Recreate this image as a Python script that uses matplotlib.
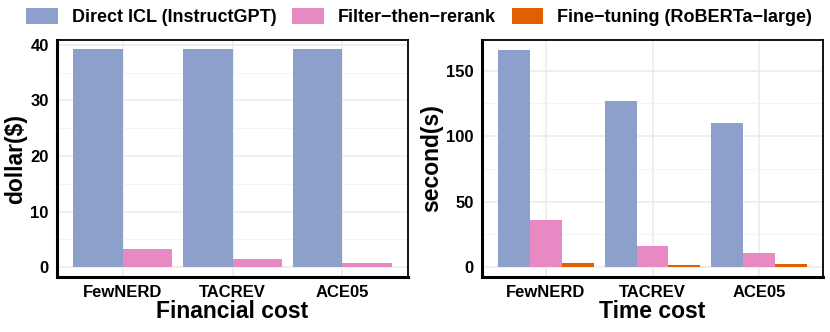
import numpy as np
import matplotlib
matplotlib.use("Agg")
import matplotlib.pyplot as plt
from matplotlib.patches import Patch
from matplotlib.ticker import MultipleLocator

plt.rcParams["font.family"] = ["Liberation Sans", "DejaVu Sans"]
plt.rcParams["font.weight"] = "bold"

# data
datasets = ["FewNERD", "TACREV", "ACE05"]
methods = ["Direct ICL (InstructGPT)", "Filter\u2212then\u2212rerank", "Fine\u2212tuning (RoBERTa\u2212large)"]
colors = ["#8DA0CB", "#E78AC3", "#E06000"]

# financial cost (dollar), fine-tuning not shown
fin_icl = [39.2, 39.2, 39.2]
fin_rerank = [3.3, 1.4, 0.7]

# time cost (second)
time_icl = [165.8, 126.8, 109.8]
time_rerank = [35.9, 16.0, 10.9]
time_ft = [2.8, 1.3, 2.3]

fig = plt.figure(figsize=(8.3, 3.32), dpi=100)
ax1 = fig.add_axes([57 / 830, 55 / 332, 351 / 830, 237 / 332])
ax2 = fig.add_axes([482 / 830, 55 / 332, 341 / 830, 237 / 332])

x = np.arange(1, len(datasets) + 1)


def style(ax, ylim, major, minor, ylabel, xlabel):
    ax.set_xlim(0.4, 3.6)
    ax.set_ylim(*ylim)
    ax.yaxis.set_major_locator(MultipleLocator(major))
    ax.yaxis.set_minor_locator(MultipleLocator(minor))
    ax.set_xticks(x)
    ax.set_xticklabels(datasets)
    ax.grid(True, which="major", color="#EBEBEB", lw=1.1)
    ax.grid(True, which="minor", axis="y", color="#F3F3F3", lw=0.7)
    ax.set_axisbelow(True)
    ax.tick_params(axis="both", which="both", length=0, labelsize=12, pad=6)
    for lbl in ax.get_xticklabels() + ax.get_yticklabels():
        lbl.set_fontweight("bold")
        lbl.set_color("black")
    for side in ["top", "right"]:
        ax.spines[side].set_linewidth(1.3)
    for side in ["left", "bottom"]:
        ax.spines[side].set_linewidth(2.2)
    ax.set_ylabel(ylabel, fontsize=16.5, fontweight="bold", labelpad=2)
    ax.set_xlabel(xlabel, fontsize=16.5, fontweight="bold", labelpad=0)


# left: financial cost, two bars per group
w = 0.45
ax1.bar(x - w / 2, fin_icl, w, color=colors[0], edgecolor="none")
ax1.bar(x + w / 2, fin_rerank, w, color=colors[1], edgecolor="none")
style(ax1, (-1.8, 40.9), 10, 5, "dollar($)", "Financial cost")

# right: time cost, three bars per group
w = 0.3
ax2.bar(x - w, time_icl, w, color=colors[0], edgecolor="none")
ax2.bar(x, time_rerank, w, color=colors[1], edgecolor="none")
ax2.bar(x + w, time_ft, w, color=colors[2], edgecolor="none")
style(ax2, (-7.6, 173.5), 50, 25, "second(s)", "Time cost")

handles = [Patch(facecolor=c, edgecolor="none") for c in colors]
fig.legend(handles, methods, loc="upper center", bbox_to_anchor=(0.505, 1.025),
           ncol=3, frameon=False, handlelength=1.75, handleheight=1.0,
           handletextpad=0.75, columnspacing=0.9, prop={"weight": "bold", "size": 13})

fig.savefig("out.png", dpi=100)
